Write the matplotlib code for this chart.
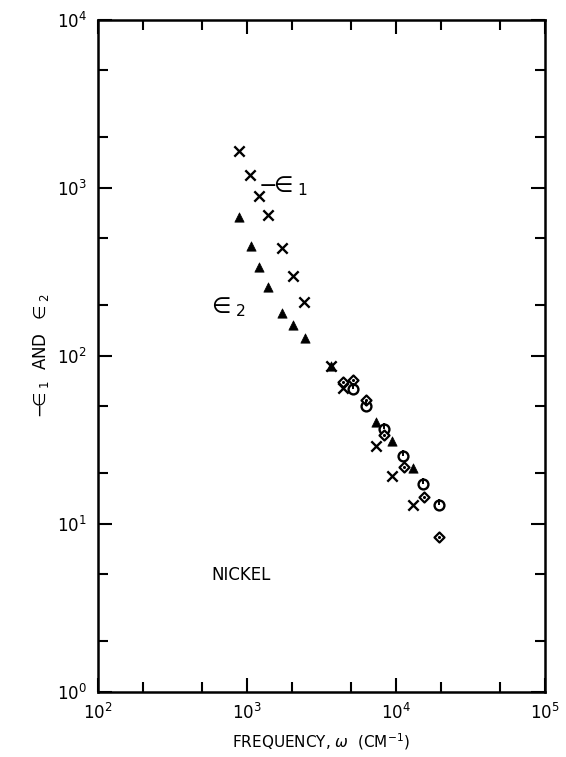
import matplotlib
matplotlib.use("Agg")
import matplotlib.pyplot as plt
from matplotlib.ticker import LogLocator, NullFormatter

# -epsilon_1 (crosses)
eps1_w = [888, 1047, 1210, 1390, 1710, 2046, 2413, 3664, 4390, 7340, 9350, 13060]
eps1_v = [1644, 1195, 888, 690, 438, 299, 210, 86.4, 64.2, 28.9, 19.3, 13.0]

# epsilon_2 (triangles)
eps2_w = [888, 1059, 1210, 1383, 1710, 2046, 2449, 3664, 7340, 9440, 13060]
eps2_v = [670, 452, 337, 255, 180, 153, 127, 86.4, 40.5, 31.2, 21.4]

# additional sets (circles and diamonds)
circ_w = [5170, 6290, 8300, 11200, 15240, 19430]
circ_v = [63.6, 50.4, 36.8, 25.4, 17.2, 12.9]
diam_w = [4430, 5170, 6290, 8300, 11380, 15400, 19430]
diam_v = [70.3, 71.3, 54.7, 33.8, 21.8, 14.4, 8.4]

x_ticks = [1e2, 1e3, 1e4, 1e5]
x_tick_labels = [r"$10^{2}$", r"$10^{3}$", r"$10^{4}$", r"$10^{5}$"]
y_ticks = [1e0, 1e1, 1e2, 1e3, 1e4]
y_tick_labels = [r"$10^{0}$", r"$10^{1}$", r"$10^{2}$", r"$10^{3}$", r"$10^{4}$"]

plt.rcParams["font.family"] = ["DejaVu Sans"]
plt.rcParams["mathtext.fontset"] = "dejavusans"

fig = plt.figure(figsize=(5.66, 7.57), dpi=100)
ax = fig.add_axes([0.173, 0.086, 0.790, 0.888])
ax.set_xscale("log")
ax.set_yscale("log")
ax.set_xlim(1e2, 1e5)
ax.set_ylim(1e0, 1e4)

ax.scatter(eps1_w, eps1_v, marker="x", s=55, c="black", linewidths=1.7, zorder=3)
ax.scatter(eps2_w, eps2_v, marker="^", s=45, c="black", linewidths=0.5, zorder=3)
ax.scatter(circ_w, circ_v, marker="o", s=50, facecolors="white", edgecolors="black",
           linewidths=1.7, zorder=4)
ax.scatter(circ_w, [v * 1.04 for v in circ_v], marker="|", s=14, c="black",
           linewidths=1.4, zorder=5)
ax.scatter(diam_w, diam_v, marker="D", s=26, facecolors="white", edgecolors="black",
           linewidths=1.6, zorder=4)
ax.scatter(diam_w, diam_v, marker=".", s=6, c="black", zorder=5)

ax.set_xticks(x_ticks)
ax.set_xticklabels(x_tick_labels)
ax.set_yticks(y_ticks)
ax.set_yticklabels(y_tick_labels)
ax.xaxis.set_minor_locator(LogLocator(base=10, subs=(2.0, 5.0), numticks=20))
ax.yaxis.set_minor_locator(LogLocator(base=10, subs=(2.0, 5.0), numticks=20))
ax.xaxis.set_minor_formatter(NullFormatter())
ax.yaxis.set_minor_formatter(NullFormatter())

ax.tick_params(which="both", direction="in", top=True, right=True, width=1.5,
               labelsize=12, pad=8)
ax.tick_params(which="major", length=10)
ax.tick_params(which="minor", length=7)
for sp in ax.spines.values():
    sp.set_linewidth(1.8)

ax.set_xlabel(r"FREQUENCY, $\omega$  (CM$^{-1}$)", fontsize=11, labelpad=6)
ax.set_ylabel(r"${-}\!\!{\in}_{1}$  AND  ${\in}_{2}$", fontsize=12, labelpad=4)

ax.text(1190, 1020, r"${-}\!\!{\in}_{1}$", fontsize=16, ha="left", va="center")
ax.text(540, 195, r"${\in}_{2}$", fontsize=16, ha="left", va="center")
ax.text(580, 4.95, "NICKEL", fontsize=12, ha="left", va="center")

fig.savefig("out.png", dpi=100)
